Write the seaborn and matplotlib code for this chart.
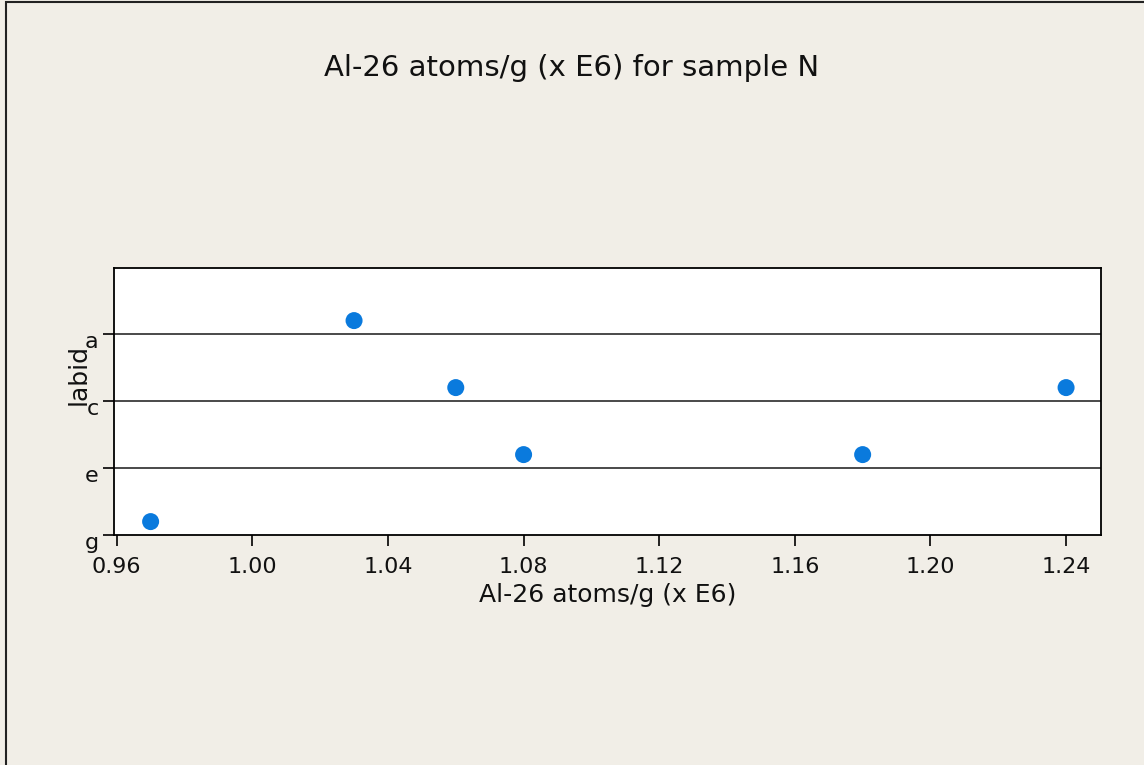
import pandas as pd
import matplotlib
matplotlib.use('Agg')
import matplotlib.pyplot as plt
import matplotlib.transforms as mtransforms
import seaborn as sns
from matplotlib.patches import Rectangle

# --- DATA ---
al26 = [0.97, 1.03, 1.06, 1.08, 1.18, 1.24]
labid = ['g', 'a', 'c', 'e', 'e', 'c']
tick_labels = ['g', 'e', 'c', 'a']
x_ticks = [0.96, 1.00, 1.04, 1.08, 1.12, 1.16, 1.20, 1.24]

# category letters -> axis level (a at top), points sit a bit above their line
level = {'g': 0, 'e': 2, 'c': 4, 'a': 6}
offset = 0.4

df = pd.DataFrame({'Al26': al26, 'labid': labid})
df['y'] = df['labid'].map(level) + offset

bg = '#f1eee7'
sns.set_style('white')
plt.rcParams['font.family'] = ['DejaVu Sans']

fig = plt.figure(figsize=(11.44, 7.65), dpi=100, facecolor=bg)
ax = fig.add_axes([114 / 1144, 1 - 535 / 765, (1101 - 114) / 1144, (535 - 268) / 765])
ax.set_facecolor('white')

sns.scatterplot(data=df, x='Al26', y='y', ax=ax, color='#0a7add', s=150,
                edgecolor='none', zorder=3)

ax.set_xlim(0.9592, 1.2503)
ax.set_ylim(0, 7.97)
ax.set_xticks(x_ticks)
ax.set_xticklabels([f'{v:.2f}' for v in x_ticks])
ax.set_yticks([level[t] for t in tick_labels])
ax.set_yticklabels(tick_labels)

for t in ['a', 'c', 'e']:
    ax.axhline(level[t], color='#3a3a3a', lw=1.3, zorder=1)

for sp in ax.spines.values():
    sp.set_color('black')
    sp.set_linewidth(1.3)

ax.tick_params(axis='both', direction='out', length=8, width=1.2, colors='black',
               labelsize=16, labelcolor='#111111', bottom=True, left=True)
ax.tick_params(axis='x', pad=8)
ax.tick_params(axis='y', pad=3)

# y tick letters sit a little below their lines in the reference
shift = mtransforms.ScaledTranslation(0, -6 / 100, fig.dpi_scale_trans)
for lab in ax.get_yticklabels():
    lab.set_transform(lab.get_transform() + shift)

ax.set_xlabel('Al-26 atoms/g (x E6)', fontsize=18, color='#111111', labelpad=4)
ax.set_ylabel('labid', fontsize=18, color='#111111', labelpad=0)
ax.yaxis.set_label_coords(-0.024, 0.6)

fig.text(0.5, 1 - 68 / 765, 'Al-26 atoms/g (x E6) for sample N', ha='center',
         va='center', fontsize=21, color='#111111')

# outer frame (left and top edges visible)
fig.patches.append(Rectangle((6 / 1144, -0.1), 1.2, 1.1 - 3 / 765 + 0.001,
                             transform=fig.transFigure, fill=False,
                             edgecolor='#222222', lw=1.5))

plt.savefig('out.png', dpi=100, facecolor=bg)
